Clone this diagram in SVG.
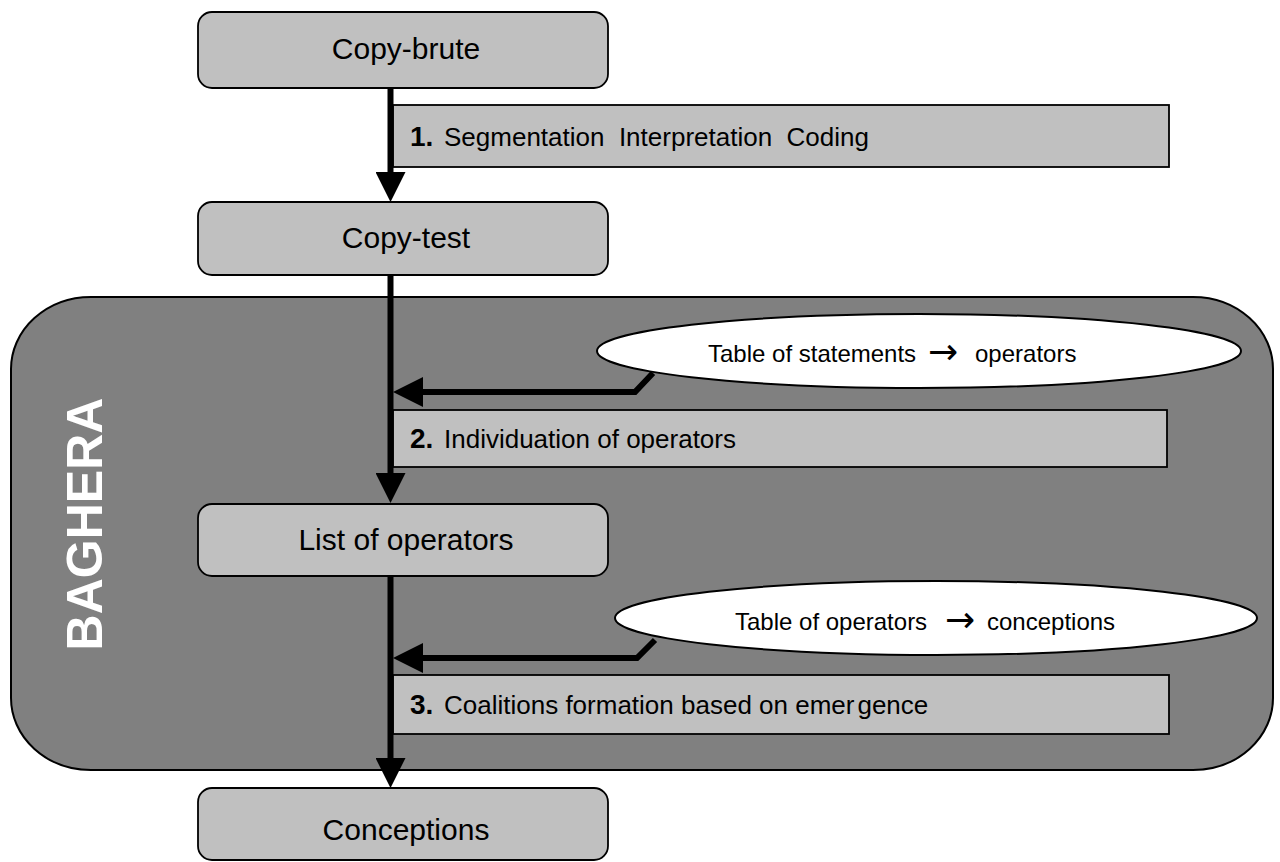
<svg xmlns="http://www.w3.org/2000/svg" width="1280" height="862" viewBox="0 0 1280 862">
<style>
.node{fill:#c0c0c0;stroke:#000;stroke-width:1.8}
.step{fill:#c0c0c0;stroke:#000;stroke-width:1.8}
.ell{fill:#fff;stroke:#000;stroke-width:2}
.t{font-family:"Liberation Sans",Arial,sans-serif;fill:#000}
.nt{font-size:30px;text-anchor:middle}
.st{font-size:26px}
.sn{font-size:28px;font-weight:bold}
.et{font-size:24px}
.ar{font-family:"DejaVu Sans",sans-serif;font-size:36px}
.conn{fill:none;stroke:#000;stroke-width:6;stroke-linejoin:miter}
</style>
<defs>
<marker id="ah" markerUnits="userSpaceOnUse" markerWidth="30" markerHeight="30" viewBox="0 0 30 30" refX="0" refY="15" orient="auto">
<path d="M0,0 L30,15 L0,30 Z" fill="#000"/>
</marker>
</defs>
<rect width="1280" height="862" fill="#fff"/>
<g id="baghera">
<rect x="11" y="297" width="1262" height="473" rx="80" ry="72" fill="#808080" stroke="#000" stroke-width="2"/>
<text class="t" transform="translate(102,524) rotate(-90)" font-size="50" font-weight="bold" style="fill:#fff" text-anchor="middle">BAGHERA</text>
</g>
<g id="copy-brute">
<rect class="node" x="198" y="12" width="410" height="76" rx="14"/>
<text class="t nt" x="406" y="59">Copy-brute</text>
</g>
<g id="step1">
<rect class="step" x="393" y="105" width="776" height="62"/>
<text class="t" x="410" y="146" xml:space="preserve"><tspan class="sn">1.</tspan><tspan class="st" x="444">Segmentation  Interpretation  Coding</tspan></text>
</g>
<g id="copy-test">
<rect class="node" x="198" y="202" width="410" height="73" rx="14"/>
<text class="t nt" x="406" y="248">Copy-test</text>
</g>
<g id="table1">
<ellipse class="ell" cx="919" cy="351" rx="322" ry="37"/>
<text class="t et" y="362"><tspan x="708">Table of statements</tspan><tspan class="ar" x="928" y="364">→</tspan><tspan x="975" y="362">operators</tspan></text>
</g>
<g id="step2">
<rect class="step" x="393" y="410" width="774" height="57"/>
<text class="t" x="410" y="448"><tspan class="sn">2.</tspan><tspan class="st" x="444">Individuation of operators</tspan></text>
</g>
<g id="list">
<rect class="node" x="198" y="504" width="410" height="72" rx="14"/>
<text class="t nt" x="406" y="550">List of operators</text>
</g>
<g id="table2">
<ellipse class="ell" cx="936" cy="618" rx="321" ry="37"/>
<text class="t et" y="630"><tspan x="735">Table of operators</tspan><tspan class="ar" x="945" y="632">→</tspan><tspan x="987" y="630">conceptions</tspan></text>
</g>
<g id="step3">
<rect class="step" x="393" y="675" width="776" height="59"/>
<text class="t" x="410" y="714"><tspan class="sn">3.</tspan><tspan class="st" x="444">Coalitions formation based on emer</tspan><tspan class="st" dx="3">gence</tspan></text>
</g>
<g id="conceptions">
<rect class="node" x="198" y="788" width="410" height="72" rx="14"/>
<text class="t nt" x="406" y="840">Conceptions</text>
</g>
<g id="connectors">
<path class="conn" d="M390.5,88 V172" marker-end="url(#ah)"/>
<path class="conn" d="M390.5,275 V473" marker-end="url(#ah)"/>
<path class="conn" d="M390.5,576 V758" marker-end="url(#ah)"/>
<path class="conn" d="M653,373 L635,392 L423,392" marker-end="url(#ah)"/>
<path class="conn" d="M655,640 L637,658 L423,658" marker-end="url(#ah)"/>
</g>
</svg>
